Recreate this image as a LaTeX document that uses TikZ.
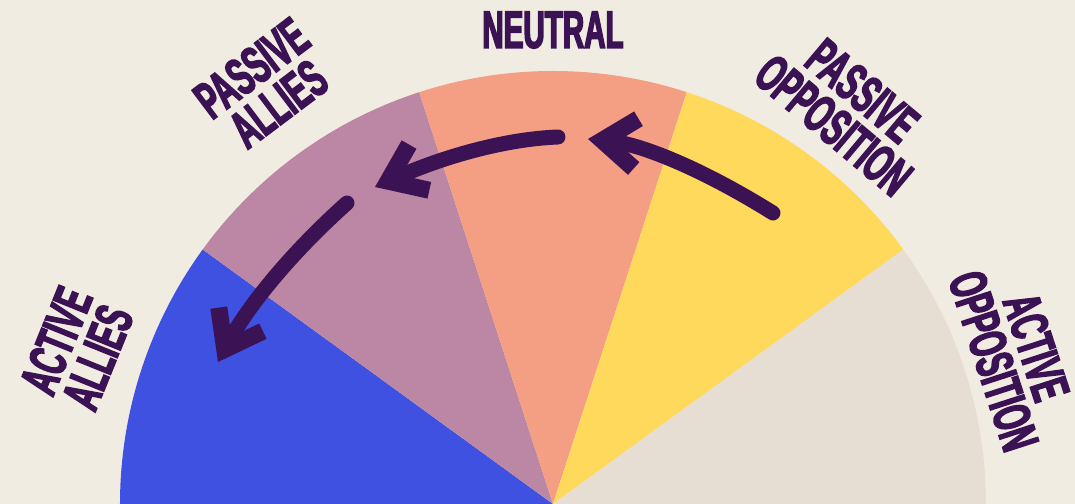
\documentclass[tikz,border=0pt]{standalone}
\usepackage{fontspec}
\usepackage{tikz}
\usetikzlibrary{arrows.meta}
\newfontfamily\labelfont[FakeStretch=0.56,FakeBold=2.8]{Liberation Sans Bold}
\definecolor{bgcol}{HTML}{F1ECE2}
\definecolor{actall}{HTML}{3F51E1}
\definecolor{pasall}{HTML}{BC87A5}
\definecolor{neut}{HTML}{F49F83}
\definecolor{pasopp}{HTML}{FFD95B}
\definecolor{actopp}{HTML}{E7DED3}
\definecolor{ink}{HTML}{3B1254}
\begin{document}
\begin{tikzpicture}[x=1bp,y=1bp,
  lab/.style={text=ink,font=\labelfont\fontsize{53}{45}\selectfont,align=center,inner sep=0pt},
  move/.style={draw=ink,line width=15bp,line cap=round,-{Straight Barb[length=34bp,width=50bp,line width=17bp]}}]
  \fill[bgcol] (-553,0) rectangle (522,504); \useasboundingbox (-553,0) rectangle (522,504);
  \fill[actall] (0,0) -- (180:433) arc (180:144:433) -- cycle; \fill[pasall] (0,0) -- (144:433) arc (144:108:433) -- cycle;
  \fill[neut] (0,0) -- (108:433) arc (108:72:433) -- cycle; \fill[pasopp] (0,0) -- (72:433) arc (72:36:433) -- cycle;
  \fill[actopp] (0,0) -- (36:433) arc (36:0:433) -- cycle;
  \node[lab,rotate=68] (aa) at (-476,155) {ACTIVE\\ALLIES}; \node[lab,rotate=37] (pa) at (-288,418) {PASSIVE\\ALLIES};
  \node[lab] (ne) at (90:474) {NEUTRAL}; \node[lab,rotate=-40] (po) at (295,396) {PASSIVE\\OPPOSITION};
  \node[lab,rotate=-72] (ao) at (462,150) {ACTIVE\\OPPOSITION};
  \coordinate (s1) at (220,291); \coordinate (e1) at (35,365); \coordinate (s2) at (5,367); \coordinate (e2) at (-178,317);
  \coordinate (s3) at (-206,301); \coordinate (e3) at (-335,142);
  \draw[move] (s1) .. controls (148,336) and (87,360) .. (e1);
  \draw[move] (s2) .. controls (-47,365) and (-108,348) .. (e2);
  \draw[move] (s3) .. controls (-262,251) and (-305,198) .. (e3);
\end{tikzpicture}
\end{document}
